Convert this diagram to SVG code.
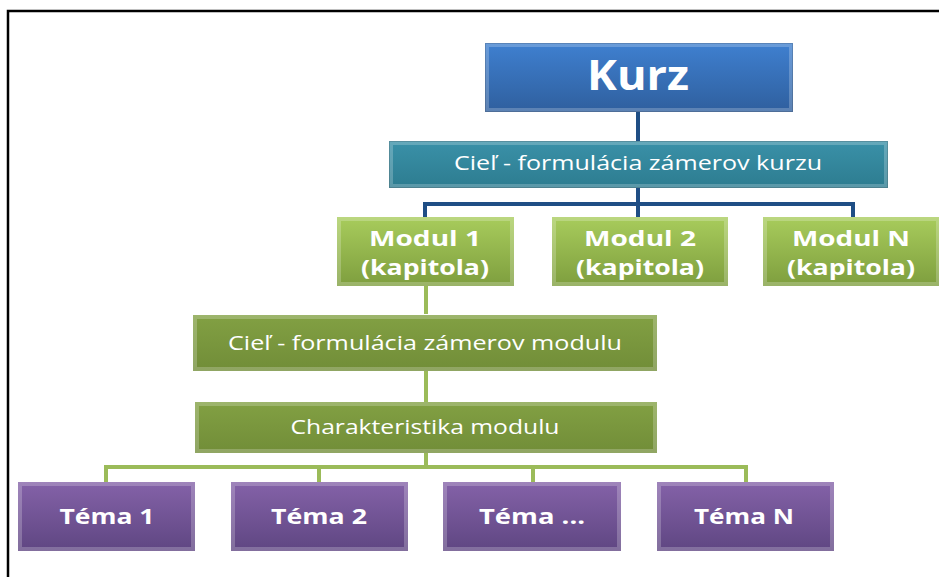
<svg xmlns="http://www.w3.org/2000/svg" width="939" height="577" viewBox="0 0 939 577">
<defs>
<linearGradient id="gBlue" x1="0" y1="0" x2="0" y2="1"><stop offset="0" stop-color="#3f80d0"/><stop offset="1" stop-color="#2f5f9e"/></linearGradient>
<linearGradient id="gTeal" x1="0" y1="0" x2="0" y2="1"><stop offset="0" stop-color="#3a91a8"/><stop offset="1" stop-color="#2d7c90"/></linearGradient>
<linearGradient id="gLime" x1="0" y1="0" x2="0" y2="1"><stop offset="0" stop-color="#a8cc5c"/><stop offset="1" stop-color="#7e9e3e"/></linearGradient>
<linearGradient id="gOlive" x1="0" y1="0" x2="0" y2="1"><stop offset="0" stop-color="#82a043"/><stop offset="1" stop-color="#718d38"/></linearGradient>
<linearGradient id="gPurple" x1="0" y1="0" x2="0" y2="1"><stop offset="0" stop-color="#8462a8"/><stop offset="1" stop-color="#5f4682"/></linearGradient>
</defs>
<style>
.bevel{fill:none;stroke:#ffffff;stroke-opacity:0.22;stroke-width:4}
.edge{fill:none;stroke:#000;stroke-opacity:0.15;stroke-width:1}
.t{font-family:"Open Sans","DejaVu Sans",sans-serif;fill:#ffffff;text-anchor:middle}
.b{font-weight:bold}
.blue{fill:none;stroke:#1f4e85;stroke-width:4}
.green{fill:none;stroke:#9bbb59;stroke-width:4}
.frame{fill:none;stroke:#000;stroke-width:2.5}
</style>
<rect width="939" height="577" fill="#ffffff"/>
<path class="frame" d="M8,577 V11 H939"/>
<g id="connectors">
<path class="blue" d="M638,112 V141"/>
<path class="blue" d="M638,188 V217 M425,217 V204 H853 V217"/>
<path class="green" d="M426,286 V314"/>
<path class="green" d="M426,371 V402"/>
<path class="green" d="M426,453 V467 M106,482 V467 H746 V482 M319,467 V482 M533,467 V482"/>
</g>
<g id="kurz">
<rect x="485" y="43" width="308" height="69" fill="url(#gBlue)"/>
<rect class="bevel" x="487" y="45" width="304" height="65"/>
<rect class="edge" x="485.5" y="43.5" width="307" height="68"/>
<text class="t b" x="638" y="90" font-size="42" textLength="102" lengthAdjust="spacingAndGlyphs">Kurz</text>
</g>
<g id="ciel-kurzu">
<rect x="389" y="141" width="499" height="47" fill="url(#gTeal)"/>
<rect class="bevel" x="391" y="143" width="495" height="43"/>
<rect class="edge" x="389.5" y="141.5" width="498" height="46"/>
<text class="t" x="638" y="170" font-size="20" textLength="368" lengthAdjust="spacingAndGlyphs">Cieľ - formulácia zámerov kurzu</text>
</g>
<g id="modul-1">
<rect x="337" y="217" width="177" height="69" fill="url(#gLime)"/>
<rect class="bevel" x="339" y="219" width="173" height="65"/>
<text class="t b" x="425" y="246" font-size="21" textLength="112" lengthAdjust="spacingAndGlyphs">Modul 1</text>
<text class="t b" x="425" y="275" font-size="21" textLength="128" lengthAdjust="spacingAndGlyphs">(kapitola)</text>
</g>
<g id="modul-2">
<rect x="552" y="217" width="176" height="69" fill="url(#gLime)"/>
<rect class="bevel" x="554" y="219" width="172" height="65"/>
<text class="t b" x="640" y="246" font-size="21" textLength="112" lengthAdjust="spacingAndGlyphs">Modul 2</text>
<text class="t b" x="640" y="275" font-size="21" textLength="128" lengthAdjust="spacingAndGlyphs">(kapitola)</text>
</g>
<g id="modul-n">
<rect x="763" y="217" width="177" height="69" fill="url(#gLime)"/>
<rect class="bevel" x="765" y="219" width="173" height="65"/>
<text class="t b" x="851" y="246" font-size="21" textLength="118" lengthAdjust="spacingAndGlyphs">Modul N</text>
<text class="t b" x="851" y="275" font-size="21" textLength="128" lengthAdjust="spacingAndGlyphs">(kapitola)</text>
</g>
<g id="ciel-modulu">
<rect x="193" y="315" width="464" height="56" fill="url(#gOlive)"/>
<rect class="bevel" x="195" y="317" width="460" height="52"/>
<text class="t" x="425" y="350" font-size="20" textLength="394" lengthAdjust="spacingAndGlyphs">Cieľ - formulácia zámerov modulu</text>
</g>
<g id="charakteristika">
<rect x="195" y="402" width="462" height="51" fill="url(#gOlive)"/>
<rect class="bevel" x="197" y="404" width="458" height="47"/>
<text class="t" x="425" y="434" font-size="20" textLength="269" lengthAdjust="spacingAndGlyphs">Charakteristika modulu</text>
</g>
<g id="tema-1">
<rect x="18" y="482" width="177" height="69" fill="url(#gPurple)"/>
<rect class="bevel" x="20" y="484" width="173" height="65"/>
<text class="t b" x="107" y="524" font-size="22" textLength="95" lengthAdjust="spacingAndGlyphs">Téma 1</text>
</g>
<g id="tema-2">
<rect x="231" y="482" width="177" height="69" fill="url(#gPurple)"/>
<rect class="bevel" x="233" y="484" width="173" height="65"/>
<text class="t b" x="319" y="524" font-size="22" textLength="96" lengthAdjust="spacingAndGlyphs">Téma 2</text>
</g>
<g id="tema-3">
<rect x="443" y="482" width="178" height="69" fill="url(#gPurple)"/>
<rect class="bevel" x="445" y="484" width="174" height="65"/>
<text class="t b" x="532" y="524" font-size="22" textLength="106" lengthAdjust="spacingAndGlyphs">Téma ...</text>
</g>
<g id="tema-n">
<rect x="657" y="482" width="177" height="69" fill="url(#gPurple)"/>
<rect class="bevel" x="659" y="484" width="173" height="65"/>
<text class="t b" x="744" y="524" font-size="22" textLength="100" lengthAdjust="spacingAndGlyphs">Téma N</text>
</g>
</svg>
